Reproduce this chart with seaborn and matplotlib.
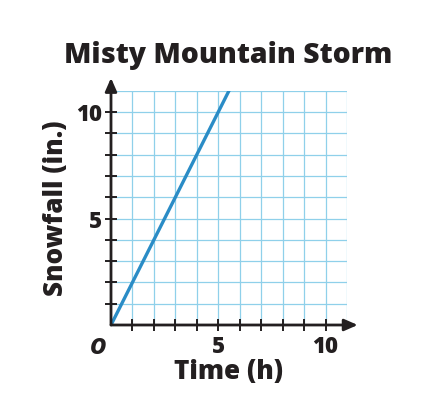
import matplotlib
matplotlib.use("Agg")
import matplotlib.pyplot as plt
import seaborn as sns
import pandas as pd

# Data
time_h = [0, 5.5]
snowfall_in = [0, 11]
x_ticks = list(range(1, 12))
y_ticks = list(range(1, 12))
x_labels = {5: "5", 10: "10"}
y_labels = {5: "5", 10: "10"}
title = "Misty Mountain Storm"
x_title = "Time (h)"
y_title = "Snowfall (in.)"

sns.set_style("white")
plt.rcParams['font.family'] = ['Open Sans', 'DejaVu Sans']

df = pd.DataFrame({"Time": time_h, "Snowfall": snowfall_in})

fig = plt.figure(figsize=(4.28, 3.94), dpi=100)
ax = fig.add_axes([111/428, 1-325/394, (347-111)/428, (325-90.7)/394])

ax.set_xlim(0, 11)
ax.set_ylim(0, 11)

sns.lineplot(data=df, x="Time", y="Snowfall", ax=ax, color="#2a8cc6", linewidth=2.4, zorder=3)

for s in ["top", "right", "left", "bottom"]:
    ax.spines[s].set_visible(False)

ax.set_xticks(x_ticks)
ax.set_yticks(y_ticks)
ax.set_xticklabels([x_labels.get(t, "") for t in x_ticks])
ax.set_yticklabels([y_labels.get(t, "") for t in y_ticks])
ax.grid(True, which="major", color="#8fd0ea", linewidth=0.9)
ax.set_axisbelow(True)
ax.tick_params(axis="both", which="major", direction="inout", length=9, width=1.4,
               color="#231f20", labelsize=16, labelcolor="#231f20", pad=2,
               bottom=True, left=True)
ax.tick_params(axis="x", pad=3)
ax.xaxis.get_major_ticks()[-1].tick1line.set_visible(False)
ax.yaxis.get_major_ticks()[-1].tick1line.set_visible(False)
for lab in ax.get_xticklabels() + ax.get_yticklabels():
    lab.set_fontweight(800)

# axes with arrows
ax.annotate("", xy=(11.5, 0), xytext=(0, 0), xycoords="data",
            arrowprops=dict(arrowstyle="-|>,head_length=0.8,head_width=0.35", color="#231f20", lw=2.0,
                            shrinkA=0, shrinkB=0), annotation_clip=False, zorder=5)
ax.annotate("", xy=(0, 11.6), xytext=(0, 0), xycoords="data",
            arrowprops=dict(arrowstyle="-|>,head_length=0.8,head_width=0.35", color="#231f20", lw=2.0,
                            shrinkA=0, shrinkB=0), annotation_clip=False, zorder=5)

ax.text(-0.6, -0.5, "O", fontsize=16, fontweight=800, fontstyle="italic",
        ha="center", va="top", color="#231f20")

ax.set_xlabel(x_title, fontsize=18.8, fontweight=800, color="#231f20", labelpad=0)
ax.set_ylabel(y_title, fontsize=18.8, fontweight=800, color="#231f20", labelpad=5)
fig.text(228/428, 1-55/394, title, fontsize=20.4, fontweight=800, color="#231f20",
         ha="center", va="center")

fig.savefig("out.png", dpi=100)
